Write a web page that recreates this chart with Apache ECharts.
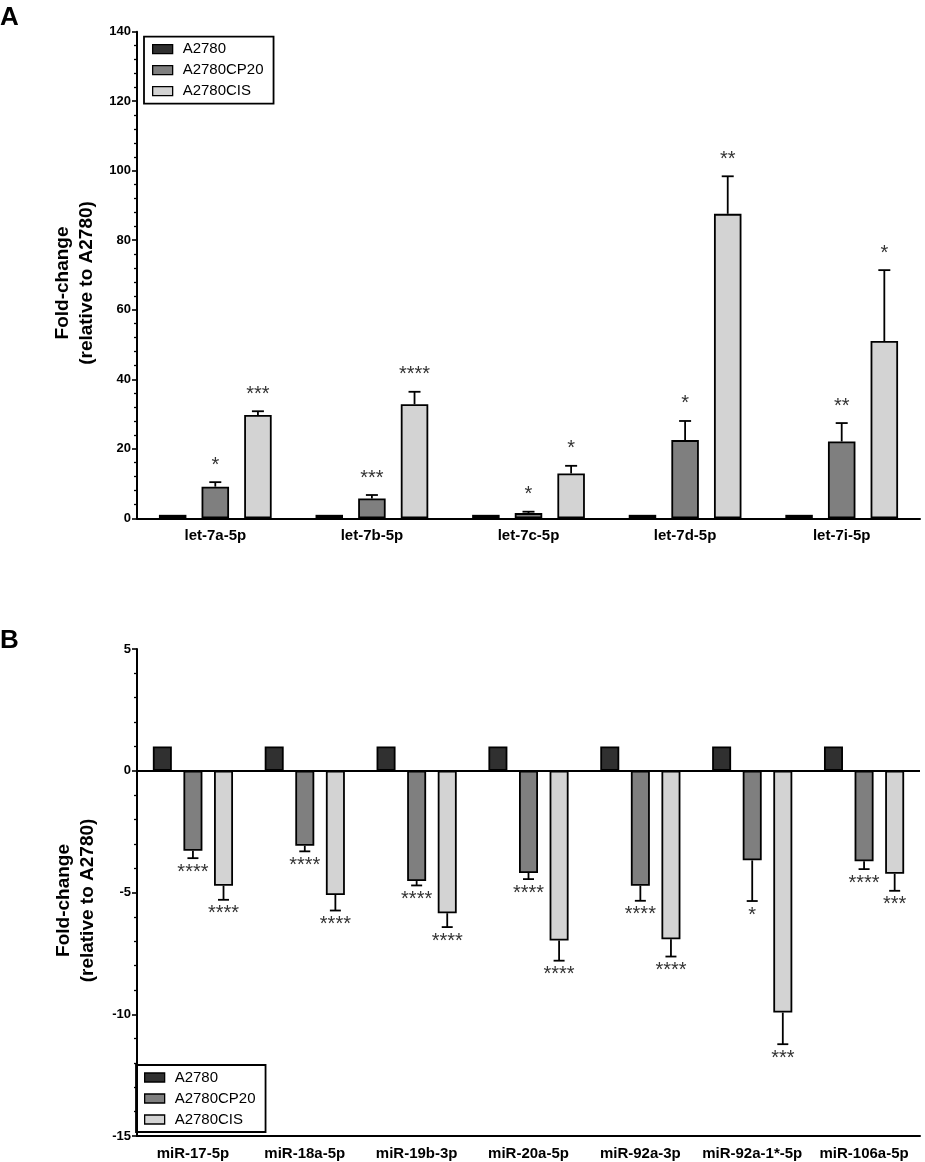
<!DOCTYPE html>
<html>
<head>
<meta charset="utf-8">
<script src="https://cdn.jsdelivr.net/npm/echarts@6/dist/echarts.min.js"></script>
<style>
html,body{margin:0;padding:0;background:#fff;}
#c{width:925px;height:1162px;}
</style>
</head>
<body>
<div id="c"></div>
<script>
// ---------- DATA ----------
var seriesNames = ['A2780', 'A2780CP20', 'A2780CIS'];

// Panel A
var catsA = ['let-7a-5p', 'let-7b-5p', 'let-7c-5p', 'let-7d-5p', 'let-7i-5p'];
var a2780A = [1, 1, 1, 1, 1];
var cp20A = [9.1, 5.7, 1.5, 22.5, 22.1];
var cp20ErrA = [1.3, 1.0, 0.4, 5.5, 5.3];
var cisA = [29.7, 32.8, 12.9, 87.6, 51.0];
var cisErrA = [1.1, 3.6, 2.2, 10.8, 20.4];
var cp20StarsA = ['*', '***', '*', '*', '**'];
var cisStarsA = ['***', '****', '*', '**', '*'];
var yTicksA = {min: 0, max: 140, interval: 20};

// Panel B
var catsB = ['miR-17-5p', 'miR-18a-5p', 'miR-19b-3p', 'miR-20a-5p', 'miR-92a-3p', 'miR-92a-1*-5p', 'miR-106a-5p'];
var a2780B = [1, 1, 1, 1, 1, 1, 1];
var cp20B = [-3.29, -3.08, -4.53, -4.2, -4.72, -3.68, -3.72];
var cp20ErrB = [0.3, 0.23, 0.18, 0.25, 0.62, 1.67, 0.32];
var cisB = [-4.72, -5.1, -5.85, -6.97, -6.92, -9.93, -4.23];
var cisErrB = [0.58, 0.64, 0.57, 0.83, 0.71, 1.3, 0.7];
var cp20StarsB = ['****', '****', '****', '****', '****', '*', '****'];
var cisStarsB = ['****', '****', '****', '****', '****', '***', '***'];
var yTicksB = {min: -15, max: 5, interval: 5};

// ---------- STYLE ----------
var colors = ['#303030', '#7f7f7f', '#d3d3d3'];
var FONT = 'Liberation Sans, Arial, sans-serif';

var chart = echarts.init(document.getElementById('c'), null, {renderer: 'canvas'});

function barSeries(name, data, idx, gridIdx, barW, gap) {
  return {
    name: name, type: 'bar', data: data,
    xAxisIndex: gridIdx, yAxisIndex: gridIdx,
    barWidth: barW, barGap: gap,
    itemStyle: {color: colors[idx], borderColor: '#000', borderWidth: 1.8},
    z: 2
  };
}

function errSeries(name, vals, errs, stars, idx, gridIdx, spacing, capW, dir) {
  var data = vals.map(function (v, i) { return [i, v, errs[i]]; });
  return {
    name: name, type: 'custom',
    xAxisIndex: gridIdx, yAxisIndex: gridIdx,
    data: data, z: 5, silent: true,
    renderItem: function (params, api) {
      var i = api.value(0), v = api.value(1), e = api.value(2);
      var p0 = api.coord([i, v]);
      var p1 = api.coord([i, v + dir * e]);
      var x = p0[0] + (idx - 1) * spacing;
      var star = stars[params.dataIndex];
      var ty = dir > 0 ? p1[1] - 7 : p1[1] + 4;
      return {
        type: 'group',
        children: [
          {type: 'line', shape: {x1: x, y1: p0[1], x2: x, y2: p1[1]}, style: {stroke: '#000', lineWidth: 1.8}},
          {type: 'line', shape: {x1: x - capW / 2, y1: p1[1], x2: x + capW / 2, y2: p1[1]}, style: {stroke: '#000', lineWidth: 1.8}},
          {type: 'text', style: {text: star, x: x, y: ty, textAlign: 'center', textVerticalAlign: dir > 0 ? 'bottom' : 'top', fontSize: 20, fontFamily: FONT, fill: '#333'}}
        ]
      };
    }
  };
}

var wA = 27.5, gA = '55%', spA = 27.5 * 1.55;
var wB = 19, gB = '61%', spB = 19 * 1.61;

function yAxisCfg(gridIdx, t) {
  return {
    type: 'value', gridIndex: gridIdx, min: t.min, max: t.max, interval: t.interval,
    name: 'Fold-change\n(relative to A2780)', nameLocation: 'middle', nameRotate: 90, nameGap: 37,
    nameTextStyle: {fontFamily: FONT, fontWeight: 'bold', fontSize: 19, color: '#000', lineHeight: 24, padding: [0, 16, 0, 0]},
    axisLine: {show: true, lineStyle: {color: '#000', width: 2}},
    axisTick: {show: true, length: 5, lineStyle: {color: '#000', width: 1.6}},
    minorTick: {show: true, splitNumber: 5, length: 3, lineStyle: {color: '#000', width: 1.3}},
    splitLine: {show: false},
    axisLabel: {fontFamily: FONT, fontWeight: 'bold', fontSize: 13, color: '#000', margin: 6}
  };
}

function xAxisCfg(gridIdx, cats) {
  return {
    type: 'category', gridIndex: gridIdx, data: cats, position: 'bottom',
    axisLine: {show: true, onZero: false, lineStyle: {color: '#000', width: 2}},
    axisTick: {show: false},
    axisLabel: {fontFamily: FONT, fontWeight: 'bold', fontSize: 15, color: '#000', margin: 10, interval: 0}
  };
}

function legendCfg(left, top) {
  return {
    orient: 'vertical', left: left, top: top,
    data: seriesNames,
    itemWidth: 20, itemHeight: 9, itemGap: 6,
    borderColor: '#000', borderWidth: 1.8, borderRadius: 0,
    padding: [5, 10, 5, 8],
    icon: 'rect',
    itemStyle: {borderColor: '#000', borderWidth: 1.3},
    textStyle: {fontFamily: FONT, fontSize: 15, color: '#000', lineHeight: 15, padding: [0, 0, 0, 5]},
    selectedMode: false
  };
}

var zeroLine = {
  silent: true, symbol: 'none', label: {show: false},
  lineStyle: {color: '#000', width: 2, type: 'solid'},
  data: [{yAxis: 0}]
};

var sA1 = barSeries(seriesNames[0], a2780A, 0, 0, wA, gA);
var sA2 = barSeries(seriesNames[1], cp20A, 1, 0, wA, gA);
var sA3 = barSeries(seriesNames[2], cisA, 2, 0, wA, gA);
var sB1 = barSeries(seriesNames[0], a2780B, 0, 1, wB, gB);
sB1.markLine = zeroLine;
var sB2 = barSeries(seriesNames[1], cp20B, 1, 1, wB, gB);
var sB3 = barSeries(seriesNames[2], cisB, 2, 1, wB, gB);

var option = {
  backgroundColor: '#fff',
  animation: false,
  textStyle: {fontFamily: FONT},
  grid: [
    {left: 137, top: 31.7, width: 783, height: 486.6},
    {left: 137, top: 649, width: 783, height: 487}
  ],
  legend: [legendCfg(144, 36.7), legendCfg(136, 1065)],
  xAxis: [xAxisCfg(0, catsA), xAxisCfg(1, catsB)],
  yAxis: [yAxisCfg(0, yTicksA), yAxisCfg(1, yTicksB)],
  graphic: [
    {type: 'text', left: 0, top: 5, style: {text: 'A', fontFamily: FONT, fontWeight: 'bold', fontSize: 26, fill: '#000'}},
    {type: 'text', left: 0, top: 628, style: {text: 'B', fontFamily: FONT, fontWeight: 'bold', fontSize: 26, fill: '#000'}}
  ],
  series: [
    sA1, sA2, sA3,
    errSeries(seriesNames[1], cp20A, cp20ErrA, cp20StarsA, 1, 0, spA, 12, 1),
    errSeries(seriesNames[2], cisA, cisErrA, cisStarsA, 2, 0, spA, 12, 1),
    sB1, sB2, sB3,
    errSeries(seriesNames[1], cp20B, cp20ErrB, cp20StarsB, 1, 1, spB, 11, -1),
    errSeries(seriesNames[2], cisB, cisErrB, cisStarsB, 2, 1, spB, 11, -1)
  ]
};
chart.setOption(option);
</script>
</body>
</html>
